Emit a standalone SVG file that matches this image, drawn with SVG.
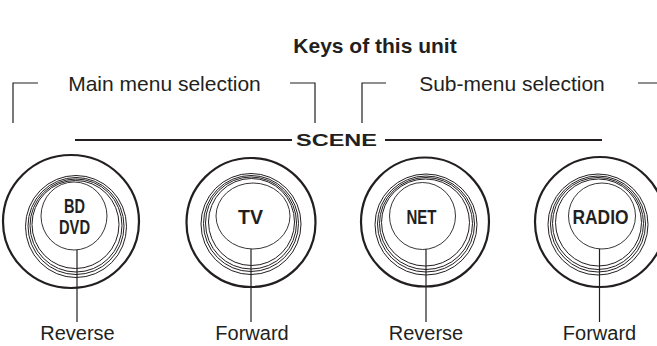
<svg xmlns="http://www.w3.org/2000/svg" width="657" height="346" viewBox="0 0 657 346">
<style>
text{font-family:"Liberation Sans",Arial,sans-serif;fill:#231f20}
.title{font-size:21px;font-weight:bold}
.lbl{font-size:21px}
.bot{font-size:20px}
.key{font-size:20px;font-weight:bold}
.scene{font-size:17px;font-weight:bold}
.ln{stroke:#231f20;fill:none;stroke-width:1.2}
.outer{stroke:#231f20;fill:none;stroke-width:2.2}
.ring{stroke:#231f20;fill:none;stroke-width:1}
.top{stroke:#231f20;fill:none;stroke-width:0.9}
</style>
<rect width="657" height="346" fill="#fff"/>
<text class="title" x="375" y="53" text-anchor="middle">Keys of this unit</text>
<g id="main-label">
<text class="lbl" x="164.5" y="91" text-anchor="middle">Main menu selection</text>
</g>
<g id="sub-label">
<text class="lbl" x="512" y="91" text-anchor="middle">Sub-menu selection</text>
</g>
<g id="scene">
<text class="scene" x="296" y="146" textLength="81" lengthAdjust="spacingAndGlyphs">SCENE</text>
</g>
<g id="connectors">
<path class="ln" d="M13,123V83H38M290,83H315V123M362,123V83H386M638,83H657"/>
<path d="M75,140H292M385,140H602" stroke="#231f20" stroke-width="2.2" fill="none"/>
<path class="ln" d="M77,250V322M251,249V322M426,249V322M599.5,249V322" stroke-width="1"/>
</g>
<g id="bd-dvd">
<ellipse class="outer" cx="71" cy="221.5" rx="68" ry="66.5"/>
<ellipse class="ring" cx="76" cy="226.5" rx="50.5" ry="51"/>
<ellipse class="ring" cx="76" cy="226" rx="48" ry="48.5"/>
<ellipse class="ring" cx="76" cy="225.5" rx="46" ry="46.5"/>
<ellipse class="ring" cx="75.5" cy="224.5" rx="43.5" ry="44"/>
<ellipse class="top" cx="74" cy="216" rx="33" ry="34"/>
<text class="key" x="74.5" y="213" text-anchor="middle" textLength="21" lengthAdjust="spacingAndGlyphs">BD</text>
<text class="key" x="74.5" y="234" text-anchor="middle" textLength="31" lengthAdjust="spacingAndGlyphs">DVD</text>
<text class="bot" x="77.5" y="340" text-anchor="middle">Reverse</text>
</g>
<g id="tv">
<ellipse class="outer" cx="251" cy="222.5" rx="64.5" ry="64.5"/>
<ellipse class="ring" cx="251" cy="224" rx="50" ry="50.5"/>
<ellipse class="ring" cx="251" cy="223.5" rx="47.5" ry="48"/>
<ellipse class="ring" cx="251" cy="223" rx="45.5" ry="46"/>
<ellipse class="ring" cx="251.5" cy="222" rx="43" ry="43.5"/>
<ellipse class="top" cx="253" cy="216" rx="37" ry="33"/>
<text class="key" x="250.5" y="224" text-anchor="middle" textLength="25" lengthAdjust="spacingAndGlyphs">TV</text>
<text class="bot" x="252" y="340" text-anchor="middle">Forward</text>
</g>
<g id="net">
<ellipse class="outer" cx="425" cy="222" rx="64" ry="64.5"/>
<ellipse class="ring" cx="426" cy="224.5" rx="51" ry="50.5"/>
<ellipse class="ring" cx="426" cy="224" rx="48.5" ry="48"/>
<ellipse class="ring" cx="426" cy="223.5" rx="46.5" ry="46"/>
<ellipse class="ring" cx="425.5" cy="222.5" rx="44" ry="43.5"/>
<ellipse class="top" cx="422.5" cy="216" rx="33" ry="33.5"/>
<text class="key" x="421.5" y="224" text-anchor="middle" textLength="30" lengthAdjust="spacingAndGlyphs">NET</text>
<text class="bot" x="426" y="340" text-anchor="middle">Reverse</text>
</g>
<g id="radio">
<ellipse class="outer" cx="600" cy="222" rx="65" ry="65"/>
<ellipse class="ring" cx="598" cy="224.5" rx="50" ry="50.5"/>
<ellipse class="ring" cx="598" cy="224" rx="47.5" ry="48"/>
<ellipse class="ring" cx="598" cy="223.5" rx="45.5" ry="46"/>
<ellipse class="ring" cx="598.5" cy="222.5" rx="43" ry="43.5"/>
<ellipse class="top" cx="602" cy="216" rx="33.5" ry="33"/>
<text class="key" x="600.5" y="224" text-anchor="middle" textLength="56" lengthAdjust="spacingAndGlyphs">RADIO</text>
<text class="bot" x="599.5" y="340" text-anchor="middle">Forward</text>
</g>
</svg>
